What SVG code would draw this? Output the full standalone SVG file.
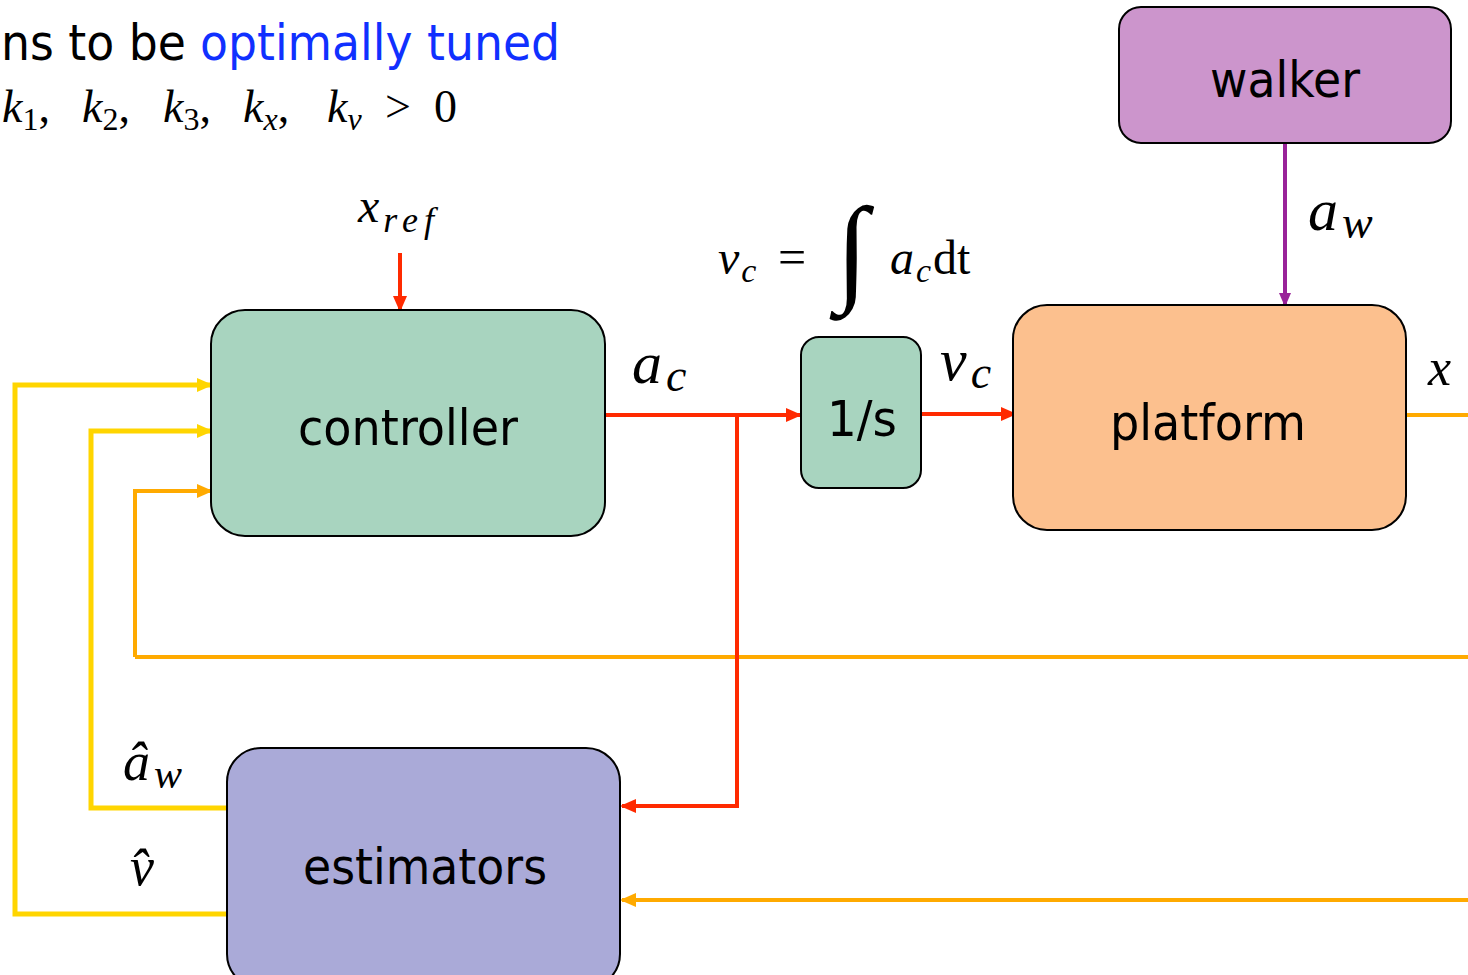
<svg xmlns="http://www.w3.org/2000/svg" width="1468" height="975" viewBox="0 0 1468 975">
<style>
.box{stroke:#000;stroke-width:2}
.lbl{font-family:"DejaVu Sans","Liberation Sans",sans-serif;font-size:50px;fill:#000;text-anchor:middle}
.m{font-family:"Liberation Serif","DejaVu Serif",serif;font-style:italic;fill:#000}
.r{font-family:"Liberation Serif","DejaVu Serif",serif;font-style:normal;fill:#000}
.red{stroke:#FF2A00;stroke-width:4;fill:none}
.org{stroke:#FFAA00;stroke-width:4;fill:none}
.yel{stroke:#FFD500;stroke-width:5;fill:none}
.pur{stroke:#992299;stroke-width:4;fill:none}
</style>
<defs>
<marker id="aR" markerUnits="userSpaceOnUse" markerWidth="16" markerHeight="14" refX="14" refY="7" orient="auto"><path d="M0,0 L16,7 L0,14 z" fill="#FF2A00"/></marker>
<marker id="aO" markerUnits="userSpaceOnUse" markerWidth="16" markerHeight="14" refX="14" refY="7" orient="auto"><path d="M0,0 L16,7 L0,14 z" fill="#FFAA00"/></marker>
<marker id="aY" markerUnits="userSpaceOnUse" markerWidth="16" markerHeight="14" refX="14" refY="7" orient="auto"><path d="M0,0 L16,7 L0,14 z" fill="#FFD500"/></marker>
<marker id="aP" markerUnits="userSpaceOnUse" markerWidth="14" markerHeight="12" refX="12" refY="6" orient="auto"><path d="M0,0 L14,6 L0,12 z" fill="#992299"/></marker>
</defs>
<rect width="1468" height="975" fill="#fff"/>

<g id="title">
<text x="1" y="60" font-family="'DejaVu Sans',sans-serif" font-size="50" fill="#000" textLength="185" lengthAdjust="spacingAndGlyphs">ns to be</text>
<text x="200" y="60" font-family="'DejaVu Sans',sans-serif" font-size="50" fill="#1030FF" textLength="360" lengthAdjust="spacingAndGlyphs">optimally tuned</text>
<g font-size="46">
<text class="m" x="2" y="122">k<tspan class="r" font-size="32" dy="8">1</tspan><tspan class="r" dy="-8">,</tspan></text>
<text class="m" x="82" y="122">k<tspan class="r" font-size="32" dy="8">2</tspan><tspan class="r" dy="-8">,</tspan></text>
<text class="m" x="163" y="122">k<tspan class="r" font-size="32" dy="8">3</tspan><tspan class="r" dy="-8">,</tspan></text>
<text class="m" x="243" y="122">k<tspan font-size="32" dy="8">x</tspan><tspan class="r" dy="-8">,</tspan></text>
<text class="m" x="327" y="122">k<tspan font-size="32" dy="8">v</tspan></text>
<text class="r" x="385" y="122">&gt;</text>
<text class="r" x="434" y="122">0</text>
</g>
</g>

<g id="connectors">
<line class="pur" x1="1285" y1="143" x2="1285" y2="305" marker-end="url(#aP)"/>
<line class="red" x1="400" y1="253" x2="400" y2="310" marker-end="url(#aR)"/>
<line class="red" x1="921" y1="414" x2="1015" y2="414" marker-end="url(#aR)"/>
<polyline class="org" points="135,657 135,491 211,491" marker-end="url(#aO)"/>
<line class="org" x1="135" y1="657" x2="1468" y2="657"/>
<line class="org" x1="1406" y1="415" x2="1468" y2="415"/>
<line class="org" x1="1468" y1="900" x2="622" y2="900" marker-end="url(#aO)"/>
<line class="red" x1="605" y1="415" x2="800" y2="415" marker-end="url(#aR)"/>
<polyline class="red" points="737,415 737,806 622,806" marker-end="url(#aR)"/>
<polyline class="yel" points="227,808 91,808 91,431 211,431" marker-end="url(#aY)"/>
<polyline class="yel" points="227,914 15,914 15,385 211,385" marker-end="url(#aY)"/>
</g>

<g id="walker">
<rect class="box" x="1119" y="7" width="332" height="136" rx="22" fill="#CC95CC"/>
<text class="lbl" x="1285" y="97" textLength="150" lengthAdjust="spacingAndGlyphs">walker</text>
</g>
<g id="controller">
<rect class="box" x="211" y="310" width="394" height="226" rx="34" fill="#A8D4BF"/>
<text class="lbl" x="408" y="445" textLength="220" lengthAdjust="spacingAndGlyphs">controller</text>
</g>
<g id="integrator">
<rect class="box" x="801" y="337" width="120" height="151" rx="18" fill="#A8D4BF"/>
<text class="lbl" x="862" y="436" textLength="70" lengthAdjust="spacingAndGlyphs">1/s</text>
</g>
<g id="platform">
<rect class="box" x="1013" y="305" width="393" height="225" rx="34" fill="#FCC08E"/>
<text class="lbl" x="1208" y="440" textLength="196" lengthAdjust="spacingAndGlyphs">platform</text>
</g>
<g id="estimators">
<rect class="box" x="227" y="748" width="393" height="240" rx="34" fill="#AAAAD8"/>
<text class="lbl" x="425" y="884" textLength="244" lengthAdjust="spacingAndGlyphs">estimators</text>
</g>

<g id="labels">
<text class="m" x="358" y="222" font-size="48">x<tspan font-size="36" dy="10" dx="4" letter-spacing="6">ref</tspan></text>
<text class="m" x="1308" y="230" font-size="60">a<tspan font-size="46" dy="8" dx="4">w</tspan></text>
<text class="m" x="632" y="383" font-size="60">a<tspan font-size="46" dy="8" dx="4">c</tspan></text>
<text class="m" x="940" y="380" font-size="60">v<tspan font-size="46" dy="8" dx="4">c</tspan></text>
<text class="m" x="1428" y="385" font-size="52">x</text>
<text class="m" x="718" y="274" font-size="48">v<tspan font-size="34" dy="8" dx="2">c</tspan></text>
<text class="r" x="778" y="274" font-size="50">=</text>
<text class="m" x="836" y="289" font-size="118">∫</text>
<text class="m" x="890" y="274" font-size="48">a<tspan font-size="34" dy="8" dx="2">c</tspan><tspan class="r" font-size="48" dy="-8" dx="2">dt</tspan></text>
<text class="m" x="123" y="780" font-size="54">â<tspan font-size="42" dy="8" dx="4">w</tspan></text>
<text class="m" x="130" y="885" font-size="54">v̂</text>
</g>
</svg>
